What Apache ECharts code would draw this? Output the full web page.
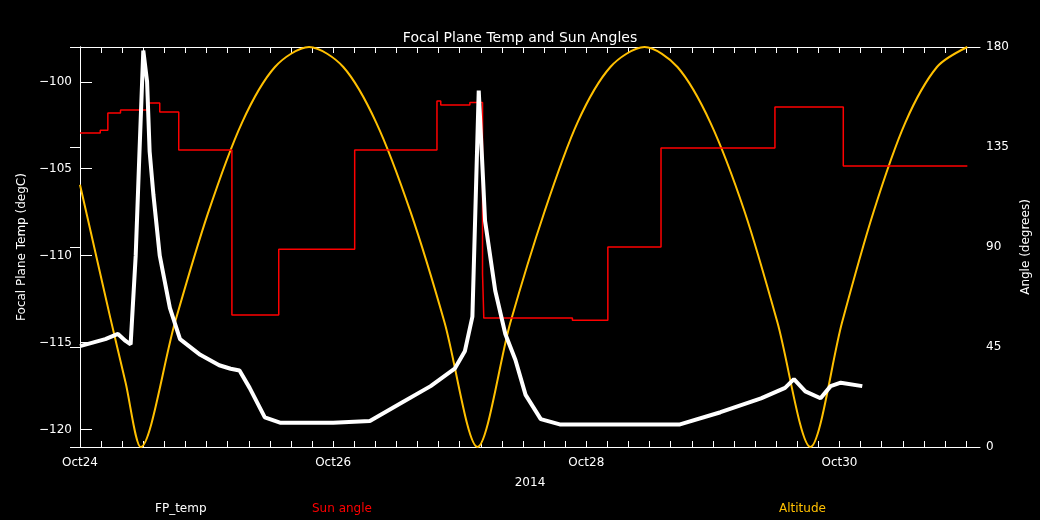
<!DOCTYPE html>
<html>
<head>
<meta charset="UTF-8">
<script src="https://cdn.jsdelivr.net/npm/echarts@6/dist/echarts.min.js"></script>
<style>
  html, body { margin: 0; padding: 0; background: #000; }
  #chart { width: 1040px; height: 520px; }
</style>
</head>
<body>
<div id="chart"></div>
<script>
// days since Oct24 00:00
var dayLabels = ['Oct24', 'Oct26', 'Oct28', 'Oct30'];
var dayLabelPos = [0, 2, 4, 6];

var fpTemp = [
  [0, -115.2], [0.1, -115.0], [0.2, -114.8], [0.3, -114.5], [0.36, -114.9], [0.4, -115.1],
  [0.44, -110], [0.47, -104], [0.5, -98.2], [0.53, -100], [0.55, -104], [0.58, -106.5],
  [0.63, -110], [0.71, -113], [0.79, -114.8], [0.95, -115.7], [1.1, -116.3], [1.19, -116.5],
  [1.26, -116.6], [1.34, -117.6], [1.46, -119.3], [1.58, -119.6], [2.0, -119.6], [2.29, -119.5],
  [2.53, -118.5], [2.77, -117.5], [2.96, -116.5], [3.04, -115.5], [3.1, -113.5], [3.15, -100.5],
  [3.2, -108], [3.28, -112], [3.36, -114.5], [3.44, -116], [3.52, -118], [3.64, -119.4],
  [3.79, -119.7], [4.3, -119.7], [4.74, -119.7], [5.06, -119.0], [5.38, -118.2], [5.57, -117.6],
  [5.64, -117.1], [5.73, -117.8], [5.85, -118.2], [5.93, -117.5], [6.01, -117.3], [6.18, -117.5]
];

var sunAngle = [
  [0, 141.3], [0.16, 141.3], [0.16, 142.5], [0.22, 142.5], [0.22, 150.3], [0.32, 150.3],
  [0.32, 151.7], [0.53, 151.7], [0.53, 154.8], [0.63, 154.8], [0.63, 150.8], [0.78, 150.8],
  [0.78, 133.6], [1.2, 133.6], [1.2, 59.4], [1.57, 59.4], [1.57, 89], [2.17, 89],
  [2.17, 133.6], [2.82, 133.6], [2.82, 155.7], [2.85, 155.7], [2.85, 153.9], [3.08, 153.9],
  [3.08, 155], [3.18, 155], [3.18, 78], [3.19, 78], [3.19, 58], [3.89, 58], [3.89, 57],
  [4.17, 57], [4.17, 90], [4.59, 90], [4.59, 134.5], [5.49, 134.5], [5.49, 153], [6.03, 153],
  [6.03, 126.5], [7.01, 126.5]
];

var altitude = [
  [0, 118], [0.12, 88], [0.24, 58], [0.36, 29], [0.48, 0], [0.75, 56], [1.01, 105], [1.28, 146],
  [1.54, 171], [1.81, 180], [2.08, 171], [2.34, 146], [2.61, 106], [2.88, 56], [3.14, 0],
  [3.40, 56], [3.67, 106], [3.93, 146], [4.19, 171], [4.46, 180], [4.72, 171], [4.98, 146],
  [5.25, 106], [5.51, 56], [5.77, 0], [6.02, 56], [6.27, 106], [6.52, 146], [6.77, 171], [7.01, 180]
];

var leftTicks = [-120, -115, -110, -105, -100];
var rightTicks = [0, 45, 90, 135, 180];

var xMax = 7.11;
var xTicks = [];
for (var i = 0; i <= 42; i++) xTicks.push(i / 6);

var font = 'DejaVu Sans';
var chart = echarts.init(document.getElementById('chart'));
chart.setOption({
  backgroundColor: '#000',
  animation: false,
  textStyle: { fontFamily: font },
  title: {
    text: 'Focal Plane Temp and Sun Angles', left: 'center', top: 26,
    textStyle: { color: '#fff', fontSize: 14, fontWeight: 'normal', fontFamily: font }
  },
  grid: { left: 80, right: 60, top: 47, bottom: 73 },
  xAxis: [{
    type: 'value', min: 0, max: xMax,
    axisLine: { lineStyle: { color: '#fff' } },
    axisTick: { customValues: xTicks, length: 6, inside: true, lineStyle: { color: '#fff' } },
    axisLabel: { customValues: dayLabelPos, color: '#fff', fontSize: 12, margin: 10,
      formatter: function (v) { return dayLabels[dayLabelPos.indexOf(v)] || ''; } },
    splitLine: { show: false },
    name: '2014', nameLocation: 'middle', nameGap: 30,
    nameTextStyle: { color: '#fff', fontSize: 12 }
  }, {
    type: 'value', min: 0, max: xMax, position: 'top',
    axisLine: { lineStyle: { color: '#fff' } },
    axisTick: { customValues: xTicks, length: 6, inside: true, lineStyle: { color: '#fff' } },
    axisLabel: { show: false }, splitLine: { show: false }
  }],
  yAxis: [{
    type: 'value', min: -121, max: -98,
    axisLine: { show: true, lineStyle: { color: '#fff' } },
    axisTick: { customValues: leftTicks, length: 12, inside: true, lineStyle: { color: '#fff' } },
    axisLabel: { customValues: leftTicks, color: '#fff', fontSize: 12,
      formatter: function (v) { return String(v).replace('-', '\u2212'); } },
    splitLine: { show: false },
    name: 'Focal Plane Temp (degC)', nameLocation: 'middle', nameGap: 52,
    nameTextStyle: { color: '#fff', fontSize: 12 }
  }, {
    type: 'value', min: 0, max: 180, position: 'right',
    axisLine: { show: true, lineStyle: { color: '#fff' } },
    axisTick: { customValues: rightTicks, length: 10, inside: true, lineStyle: { color: '#fff' } },
    axisLabel: { customValues: rightTicks, color: '#fff', fontSize: 12, margin: 6 },
    splitLine: { show: false },
    name: 'Angle (degrees)', nameLocation: 'middle', nameGap: 36,
    nameTextStyle: { color: '#fff', fontSize: 12 }
  }],
  series: [{
    name: 'FP_temp', type: 'line', xAxisIndex: 0, yAxisIndex: 0, data: fpTemp,
    showSymbol: false, lineStyle: { color: '#fff', width: 4 }, z: 3
  }, {
    name: 'Sun angle', type: 'line', xAxisIndex: 0, yAxisIndex: 1, data: sunAngle,
    showSymbol: false, lineStyle: { color: '#ff0000', width: 1.5 }, z: 2
  }, {
    name: 'Altitude', type: 'line', xAxisIndex: 0, yAxisIndex: 1, data: altitude,
    smooth: 0.3, showSymbol: false, lineStyle: { color: '#ffc000', width: 2 }, z: 1
  }],
  graphic: [
    { type: 'text', left: 155, top: 503, style: { text: 'FP_temp', fill: '#fff', font: '12px DejaVu Sans' } },
    { type: 'text', left: 312, top: 503, style: { text: 'Sun angle', fill: '#ff0000', font: '12px DejaVu Sans' } },
    { type: 'text', left: 779, top: 503, style: { text: 'Altitude', fill: '#ffc000', font: '12px DejaVu Sans' } }
  ]
});
</script>
</body>
</html>
